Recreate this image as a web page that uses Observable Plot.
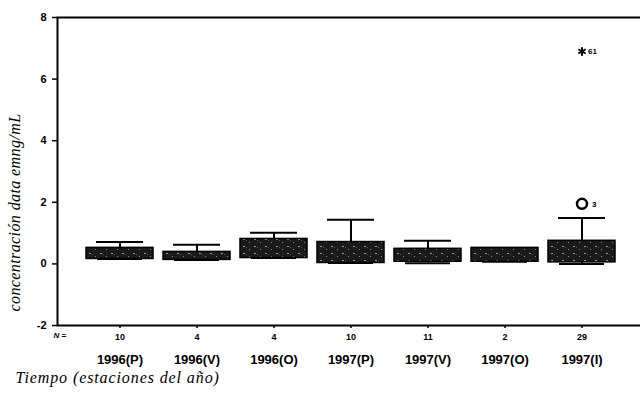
<!DOCTYPE html>
<html>
<head>
<meta charset="utf-8">
<script src="https://cdn.jsdelivr.net/npm/d3@7"></script>
<script src="https://cdn.jsdelivr.net/npm/@observablehq/plot@0.6"></script>
<style>
  html, body { margin: 0; padding: 0; background: #fff; }
</style>
</head>
<body>
<div id="chart"></div>
<script>
// ---- data ----
const categories = ["1996(P)", "1996(V)", "1996(O)", "1997(P)", "1997(V)", "1997(O)", "1997(I)"];
const nCounts    = [10, 4, 4, 10, 11, 2, 29];
const q1         = [0.16, 0.13, 0.19, 0.03, 0.07, 0.07, 0.05];
const q3         = [0.52, 0.39, 0.81, 0.71, 0.49, 0.52, 0.75];
const whiskerLo  = [0.16, 0.13, 0.19, 0.03, 0.02, 0.07, 0.00];
const whiskerHi  = [0.71, 0.62, 1.01, 1.43, 0.75, 0.52, 1.49];
const outlierCats   = ["1997(I)"];
const outlierValues = [1.95];
const outlierLabels = ["3"];
const extremeCats   = ["1997(I)"];
const extremeValues = [6.9];
const extremeLabels = ["61"];
const yTicks = [-2, 0, 2, 4, 6, 8];
const yTitle = "concentración data emng/mL";
const xTitle = "Tiempo (estaciones del año)";

const boxes = categories.map((c, i) => ({cat: c, q1: q1[i], q3: q3[i], lo: whiskerLo[i], hi: whiskerHi[i], n: nCounts[i]}));
const outliers = outlierCats.map((c, i) => ({cat: c, v: outlierValues[i], label: outlierLabels[i]}));
const extremes = extremeCats.map((c, i) => ({cat: c, v: extremeValues[i], label: extremeLabels[i]}));

const sans = "Liberation Sans, Arial, sans-serif";
const serif = "Liberation Serif, Times New Roman, serif";

const chart = Plot.plot({
  width: 640,
  height: 393,
  marginLeft: 57,
  marginRight: 0,
  marginTop: 17,
  marginBottom: 68,
  style: {fontFamily: sans, background: "white", color: "black"},
  x: {type: "band", domain: categories, range: [84.5, 616.5], paddingInner: 0.135, paddingOuter: 0, label: null},
  y: {domain: [-2, 8], label: null},
  marks: [
    // whiskers
    Plot.ruleX(boxes, {x: "cat", y1: "q3", y2: "hi", stroke: "black", strokeWidth: 2}),
    Plot.ruleX(boxes, {x: "cat", y1: "q1", y2: "lo", stroke: "black", strokeWidth: 2}),
    Plot.tickY(boxes, {x: "cat", y: "hi", stroke: "black", strokeWidth: 2, insetLeft: 10, insetRight: 10}),
    Plot.tickY(boxes, {x: "cat", y: "lo", stroke: "black", strokeWidth: 2, insetLeft: 11, insetRight: 11}),
    // boxes
    Plot.barY(boxes, {x: "cat", y1: "q1", y2: "q3", fill: "url(#speck)", stroke: "black", strokeWidth: 1.5}),
    // outliers
    Plot.dot(outliers, {x: "cat", y: "v", r: 5, stroke: "black", strokeWidth: 2.5, fill: "none"}),
    Plot.text(outliers, {x: "cat", y: "v", text: "label", dx: 10, dy: 1, textAnchor: "start", fontSize: 8, fontWeight: "bold"}),
    Plot.dot(extremes, {x: "cat", y: "v", symbol: "asterisk", r: 4, stroke: "black", strokeWidth: 2}),
    Plot.text(extremes, {x: "cat", y: "v", text: "label", dx: 6, textAnchor: "start", fontSize: 8, fontWeight: "bold"}),
    // frame lines
    Plot.frame({stroke: "black", strokeWidth: 2, insetRight: -3}),
    // axes
    Plot.axisY({ticks: yTicks, tickFormat: d => String(d), tickSize: 5, tickPadding: 6, fontSize: 11, fontWeight: "bold", strokeWidth: 1.5, label: null}),
    Plot.axisX({tickSize: 3, tickPadding: 5, tickFormat: d => nCounts[categories.indexOf(d)], fontSize: 9, fontWeight: "bold", strokeWidth: 1.5, label: null}),
    Plot.axisX({tickSize: 0, tickPadding: 29, fontSize: 13, fontWeight: "bold", label: null}),
    Plot.text(["N ="], {frameAnchor: "bottom-left", dx: -4, dy: 12, fontSize: 8, fontWeight: "bold", fontStyle: "italic"}),
    // titles
    Plot.text([xTitle], {frameAnchor: "bottom-left", dx: -42, dy: 57, textAnchor: "start", fontFamily: serif, fontStyle: "italic", fontSize: 16}),
    Plot.text([yTitle], {frameAnchor: "left", dx: -43, dy: 41, rotate: -90, textAnchor: "middle", fontFamily: serif, fontStyle: "italic", fontSize: 16})
  ]
});

// halftone-like fill used by the boxes
const ns = "http://www.w3.org/2000/svg";
const defs = document.createElementNS(ns, "defs");
defs.innerHTML = `
<pattern id="speck" patternUnits="userSpaceOnUse" width="11" height="7">
  <rect width="11" height="7" fill="#1a1a1a"/>
  <rect x="1" y="1" width="2" height="1" fill="#9a9a9a"/>
  <rect x="7" y="4" width="1" height="1" fill="#8a8a8a"/>
  <rect x="4" y="2" width="1" height="1" fill="#555"/>
</pattern>`;
chart.insertBefore(defs, chart.firstChild);

// slightly wider letter spacing for the serif titles, like the scanned original
chart.querySelectorAll("text").forEach(t => {
  if (t.textContent === xTitle) t.setAttribute("letter-spacing", "0.9");
  if (t.textContent === yTitle) t.setAttribute("letter-spacing", "0.4");
});

document.getElementById("chart").appendChild(chart);
</script>
</body>
</html>
